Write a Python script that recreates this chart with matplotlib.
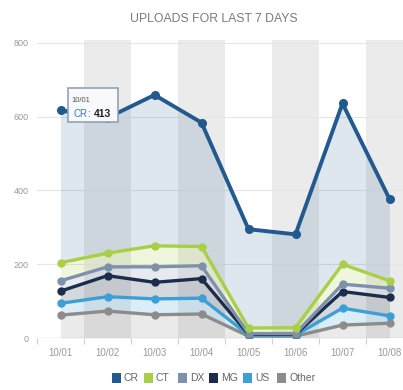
import numpy as np
import matplotlib
matplotlib.use("Agg")
import matplotlib.pyplot as plt
from matplotlib.patches import FancyBboxPatch, Rectangle

# Daily upload counts per source (stacked in this order, bottom first)
days = ["10/01", "10/02", "10/03", "10/04", "10/05", "10/06", "10/07", "10/08"]
other = [62, 73, 63, 65, 5, 5, 35, 40]
us = [32, 39, 43, 43, 3, 3, 46, 20]
mg = [33, 57, 45, 53, 2, 2, 45, 50]
dx = [28, 24, 42, 35, 2, 2, 20, 25]
ct = [49, 37, 57, 52, 15, 16, 54, 20]
cr = [413, 367, 409, 336, 268, 253, 436, 222]

series_names = ["Other", "US", "MG", "DX", "CT", "CR"]
series_values = [other, us, mg, dx, ct, cr]
series_colors = ["#8c8c8c", "#3c9fd6", "#1b2d4a", "#7d91aa", "#a9cf46", "#22598e"]
legend_order = ["CR", "CT", "DX", "MG", "US", "Other"]
y_ticks = [0, 200, 400, 600, 800]

plt.rcParams["font.family"] = ["Liberation Sans", "DejaVu Sans"]

fig = plt.figure(figsize=(4.03, 3.90), dpi=100)
ax = fig.add_axes([37 / 403, 52 / 390, 376 / 403, 298 / 390])
x = np.arange(len(days))
ax.set_xlim(-0.5, len(days) - 0.5)
ax.set_ylim(0, 808)

# alternating column bands
for i in x:
    if i % 2 == 1:
        ax.axvspan(i - 0.5, i + 0.5, color="#ebebeb", zorder=0, lw=0)

for t in y_ticks[1:]:
    ax.axhline(t, color="#e6e6e6", lw=0.8, zorder=0.5)
ax.axhline(0, color="#d0d0d0", lw=1.0, zorder=0.6)

bottom = np.zeros(len(days))
tops = {}
for name, vals, col in zip(series_names, series_values, series_colors):
    top = bottom + np.array(vals)
    alpha = 0.18 if name != "CR" else 0.15
    ax.fill_between(x, bottom, top, color=col, alpha=alpha, lw=0, zorder=1)
    tops[name] = top
    bottom = top

for z, (name, col) in enumerate(zip(series_names, series_colors)):
    lw = 2.8 if name == "CR" else 2.4
    ax.plot(x, tops[name], color=col, lw=lw, marker="o", ms=5.5 if name == "CR" else 5,
            zorder=3 + z, solid_joinstyle="round")

for s in ax.spines.values():
    s.set_visible(False)
ax.set_xticks(x)
ax.set_xticklabels(days, fontsize=7, color="#9a9a9a")
ax.set_xticks(np.arange(-0.5, len(days), 1.0), minor=True)
ax.tick_params(axis="x", which="major", length=0, pad=7)
ax.tick_params(axis="x", which="minor", length=4, color="#d0d0d0", width=0.8)
ax.set_yticks(y_ticks)
ax.set_yticklabels([str(t) for t in y_ticks], fontsize=6.5, color="#9a9a9a")
ax.tick_params(axis="y", length=0, pad=6)

# hover tooltip for the first CR point
cr_top0 = tops["CR"][0]
ax.plot([0, 0.2], [cr_top0, cr_top0], color="#22598e", lw=1.2, zorder=9)
tip = FancyBboxPatch((68 / 403, 268 / 390), 50 / 403, 34 / 390,
                     boxstyle="square,pad=0", transform=fig.transFigure,
                     facecolor="#f7f9fb", edgecolor="#8fa3b8", lw=1.2, zorder=10)
fig.patches.append(tip)
fig.text(71 / 403, 290 / 390, days[0], fontsize=5.5, color="#555555", va="center", zorder=11)
fig.text(73 / 403, 276 / 390, "CR", fontsize=7, color="#3a78b5", va="center", zorder=11)
fig.text(87.5 / 403, 276 / 390, ":", fontsize=7, color="#555555", va="center", zorder=11)
fig.text(94 / 403, 276 / 390, str(cr[0]), fontsize=7.5, color="#222222",
         fontweight="bold", va="center", zorder=11)

fig.text(214 / 403, 371 / 390, "UPLOADS FOR LAST 7 DAYS", fontsize=8.8, color="#7a7a7a",
         ha="center", va="center")

# legend row
color_of = dict(zip(series_names, series_colors))
swatch_x = {"CR": 112, "CT": 144, "DX": 178, "MG": 209, "US": 243, "Other": 277}
for name in legend_order:
    lx = swatch_x[name]
    fig.patches.append(Rectangle((lx / 403, 7 / 390), 9 / 403, 10 / 390,
                                 transform=fig.transFigure, facecolor=color_of[name],
                                 edgecolor="none"))
    fig.text((lx + 12) / 403, 12 / 390, name, fontsize=7.5, color="#666666",
             va="center")

fig.savefig("out.png", dpi=100, facecolor="white")
